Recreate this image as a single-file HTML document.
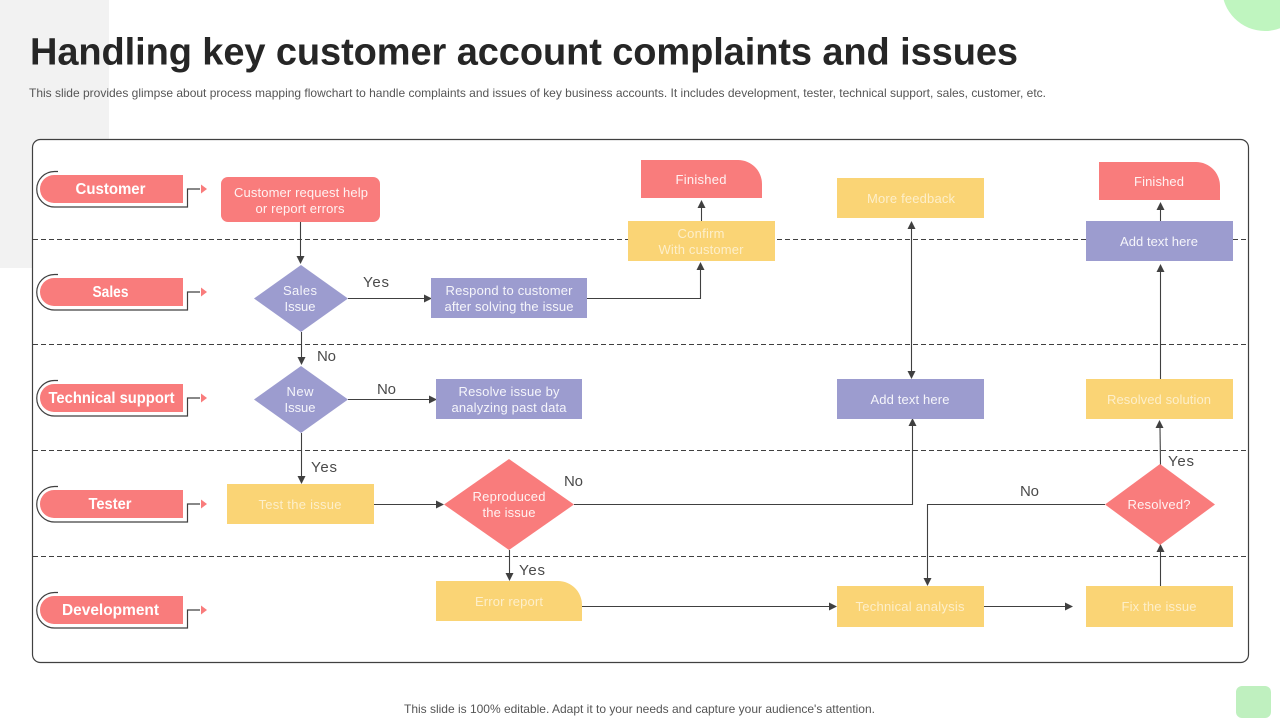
<!DOCTYPE html>
<html><head><meta charset="utf-8"><style>
html,body{margin:0;padding:0;background:#fff}
svg{display:block}
text{font-family:"Liberation Sans",sans-serif}
.w{fill:#fff;fill-opacity:.9;font-size:13px;text-anchor:middle}
.wy{fill:#fff;fill-opacity:.62;font-size:13px;text-anchor:middle}
.l{fill:#fff;font-size:15.5px;font-weight:bold;text-anchor:middle}
.k{fill:#4a4a4a;font-size:15px}
.c{fill:none;stroke:#404040;stroke-width:1.1}
.o{fill:none;stroke:#404040;stroke-width:1.2}
.r{fill:#F97C7C}.y{fill:#FAD475}.p{fill:#9C9CCF}
.a{fill:#404040}
.ra{fill:#F97C7C}
</style></head><body>
<svg width="1280" height="720" viewBox="0 0 1280 720" xmlns="http://www.w3.org/2000/svg">
<rect x="0" y="0" width="109" height="268" fill="#F2F2F2"/>
<circle cx="1265" cy="-12" r="43" fill="#BFF5BF"/>
<rect x="1236" y="686" width="35" height="32" rx="6" fill="#BFF0BF"/>
<text x="30" y="64.500" font-size="38" font-weight="bold" fill="#262626" textLength="988" lengthAdjust="spacing">Handling key customer account complaints and issues</text>
<text x="29" y="97" font-size="12" fill="#555" textLength="1017" lengthAdjust="spacing">This slide provides glimpse about process mapping flowchart to handle complaints and issues of key business accounts. It includes development, tester, technical support, sales, customer, etc.</text>
<text x="404" y="713" font-size="12" fill="#555" textLength="471" lengthAdjust="spacing">This slide is 100% editable. Adapt it to your needs and capture your audience's attention.</text>

<rect x="32.500" y="139.500" width="1216" height="523" rx="8" fill="#fff" stroke="#404040" stroke-width="1.2"/>
<g stroke="#404040" stroke-width="1.1" stroke-dasharray="5 3" fill="none">
<path d="M33 239.500H1248M33 344.500H1248M33 450.500H1248M33 556.500H1248"/>
</g>

<!-- lanes -->
<g>
<path class="r" d="M54 175H183V203H54a14 14 0 0 1 0-28z"/>
<path class="o" d="M58 171.500H54.500a17.750 17.750 0 0 0 0 35.500H187.500V189H200"/><path class="ra" d="M207 189l-6-4.500v9z"/>
<text class="l" x="110.500" y="194" textLength="70" lengthAdjust="spacingAndGlyphs">Customer</text>

<path class="r" d="M54 278H183V306H54a14 14 0 0 1 0-28z"/>
<path class="o" d="M58 274.500H54.500a17.750 17.750 0 0 0 0 35.500H187.500V292H200"/><path class="ra" d="M207 292l-6-4.500v9z"/>
<text class="l" x="110.500" y="297" textLength="36" lengthAdjust="spacingAndGlyphs">Sales</text>

<path class="r" d="M54 384H183V412H54a14 14 0 0 1 0-28z"/>
<path class="o" d="M58 380.500H54.500a17.750 17.750 0 0 0 0 35.500H187.500V398H200"/><path class="ra" d="M207 398l-6-4.500v9z"/>
<text class="l" x="111.500" y="403" textLength="126" lengthAdjust="spacingAndGlyphs">Technical support</text>

<path class="r" d="M54 490H183V518H54a14 14 0 0 1 0-28z"/>
<path class="o" d="M58 486.500H54.500a17.750 17.750 0 0 0 0 35.500H187.500V504H200"/><path class="ra" d="M207 504l-6-4.500v9z"/>
<text class="l" x="110" y="509" textLength="43" lengthAdjust="spacingAndGlyphs">Tester</text>

<path class="r" d="M54 596H183V624H54a14 14 0 0 1 0-28z"/>
<path class="o" d="M58 592.500H54.500a17.750 17.750 0 0 0 0 35.500H187.500V610H200"/><path class="ra" d="M207 610l-6-4.500v9z"/>
<text class="l" x="110.500" y="615" textLength="97" lengthAdjust="spacingAndGlyphs">Development</text>
</g>

<!-- connectors -->
<g class="c">
<path d="M300.500 222V256"/>
<path d="M348 298.500H425"/>
<path d="M587 298.500H700.500V270"/>
<path d="M701.500 221V208"/>
<path d="M301.500 332V358"/>
<path d="M348 399.500H430"/>
<path d="M301.500 433V477"/>
<path d="M374 504.500H437"/>
<path d="M574 504.500H912.500V426"/>
<path d="M509.500 550V574"/>
<path d="M582 606.500H830"/>
<path d="M984 606.500H1066"/>
<path d="M911.500 228V372"/>
<path d="M1160.500 586V552"/>
<path d="M1105 504.500H927.500V579"/>
<path d="M1160.500 465L1160 428"/>
<path d="M1160.500 379V272"/>
<path d="M1160.500 221V210"/>
</g>
<g class="a">
<path d="M296.500 256h8l-4 8z"/>
<path d="M424 294.500v8l8-4z"/>
<path d="M696.500 270h8l-4-8z"/>
<path d="M697.500 208h8l-4-8z"/>
<path d="M297.500 357h8l-4 8z"/>
<path d="M429 395.500v8l8-4z"/>
<path d="M297.500 476h8l-4 8z"/>
<path d="M436 500.500v8l8-4z"/>
<path d="M908.500 426h8l-4-8z"/>
<path d="M505.500 573h8l-4 8z"/>
<path d="M829 602.500v8l8-4z"/>
<path d="M1065 602.500v8l8-4z"/>
<path d="M907.500 229h8l-4-8z"/>
<path d="M907.500 371h8l-4 8z"/>
<path d="M1156.500 552h8l-4-8z"/>
<path d="M923.500 578h8l-4 8z"/>
<path d="M1155.500 428h8l-4-8z"/>
<path d="M1156.500 272h8l-4-8z"/>
<path d="M1156.500 210h8l-4-8z"/>
</g>

<!-- nodes -->
<rect class="r" x="221" y="177" width="159" height="45" rx="7"/>
<text class="w" x="301" y="197" textLength="134">Customer request help</text>
<text class="w" x="300" y="213" textLength="89">or report errors</text>

<path class="r" d="M641 160H738a24 24 0 0 1 24 24V198H641z"/>
<text class="w" x="701" y="184" textLength="51">Finished</text>
<path class="r" d="M1099 162H1196a24 24 0 0 1 24 24V200H1099z"/>
<text class="w" x="1159" y="186" textLength="50">Finished</text>

<rect class="y" x="628" y="221" width="147" height="40"/>
<text class="wy" x="701" y="238" textLength="47">Confirm</text>
<text class="wy" x="701" y="254" textLength="85">With customer</text>

<rect class="y" x="837" y="178" width="147" height="40"/>
<text class="wy" x="911" y="203" textLength="88">More feedback</text>

<rect class="p" x="1086" y="221" width="147" height="40"/>
<text class="w" x="1159" y="246" textLength="78">Add text here</text>

<path class="p" d="M301 265L348 298.500L301 332L254 298.500z"/>
<text class="w" x="300" y="295" textLength="34">Sales</text>
<text class="w" x="300" y="311" textLength="31">Issue</text>

<rect class="p" x="431" y="278" width="156" height="40"/>
<text class="w" x="509" y="295" textLength="127">Respond to customer</text>
<text class="w" x="509" y="311" textLength="129">after solving the issue</text>

<path class="p" d="M301 366L348 399.500L301 433L254 399.500z"/>
<text class="w" x="300" y="396" textLength="27">New</text>
<text class="w" x="300" y="412" textLength="31">Issue</text>

<rect class="p" x="436" y="379" width="146" height="40"/>
<text class="w" x="509" y="396" textLength="101">Resolve issue by</text>
<text class="w" x="509" y="412" textLength="115">analyzing past data</text>

<rect class="p" x="837" y="379" width="147" height="40"/>
<text class="w" x="910" y="404" textLength="79">Add text here</text>

<rect class="y" x="1086" y="379" width="147" height="40"/>
<text class="wy" x="1159" y="404" textLength="104">Resolved solution</text>

<rect class="y" x="227" y="484" width="147" height="40"/>
<text class="wy" x="300" y="509" textLength="83">Test the issue</text>

<path class="r" d="M509 459L574 504.500L509 550L444 504.500z"/>
<text class="w" x="509" y="501" textLength="73">Reproduced</text>
<text class="w" x="509" y="517" textLength="53">the issue</text>

<path class="r" d="M1160 464L1215 504.500L1160 545L1105 504.500z"/>
<text class="w" x="1159" y="509" textLength="63">Resolved?</text>

<path class="y" d="M436 581H558a24 24 0 0 1 24 24V621H436z"/>
<text class="wy" x="509" y="606" textLength="68">Error report</text>

<rect class="y" x="837" y="586" width="147" height="41"/>
<text class="wy" x="910" y="611" textLength="109">Technical analysis</text>

<rect class="y" x="1086" y="586" width="147" height="41"/>
<text class="wy" x="1159" y="611" textLength="75">Fix the issue</text>

<!-- labels -->
<text class="k" x="363" y="287" textLength="26">Yes</text>
<text class="k" x="317" y="361" textLength="19">No</text>
<text class="k" x="377" y="394" textLength="19">No</text>
<text class="k" x="311" y="472" textLength="26">Yes</text>
<text class="k" x="564" y="486" textLength="19">No</text>
<text class="k" x="519" y="575" textLength="26">Yes</text>
<text class="k" x="1020" y="496" textLength="19">No</text>
<text class="k" x="1168" y="466" textLength="26">Yes</text>
</svg>
</body></html>
